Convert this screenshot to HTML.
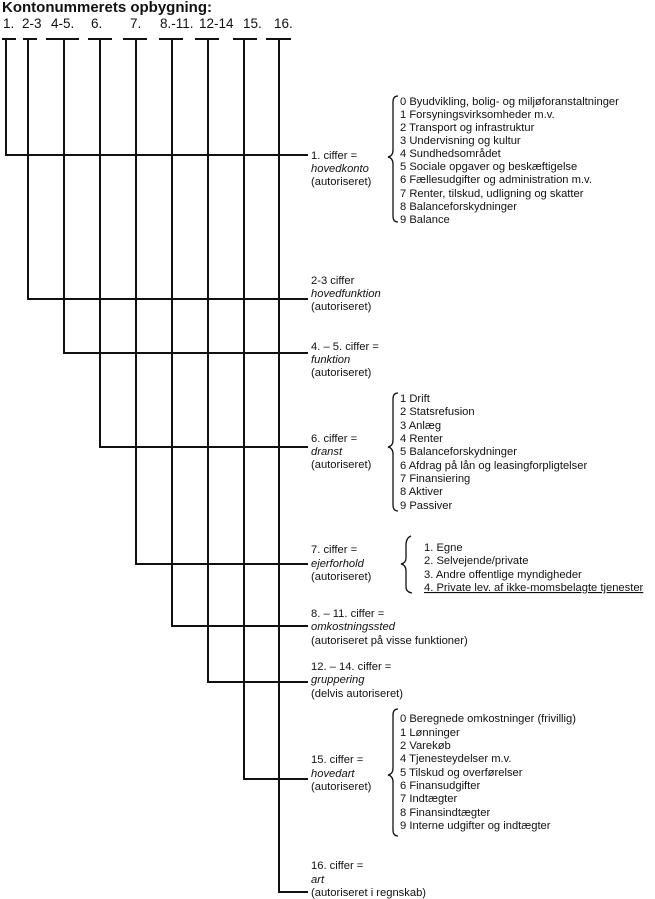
<!DOCTYPE html>
<html><head><meta charset="utf-8"><style>
body{margin:0;background:#fff;}
svg{display:block;}
text{font-family:"Liberation Sans",Arial,sans-serif;font-size:11.2px;fill:#111;}
.i{font-style:italic;}
text.c{font-size:13.5px;}
</style></head><body>
<svg width="655" height="899" viewBox="0 0 655 899" xmlns="http://www.w3.org/2000/svg">
<text x="2" y="12" style="font-size:15px;font-weight:bold">Kontonummerets opbygning:</text>
<text class="c" x="3" y="28">1.</text><text class="c" x="22" y="28">2-3</text><text class="c" x="51" y="28">4-5.</text>
<text class="c" x="91" y="28">6.</text><text class="c" x="130" y="28">7.</text><text class="c" x="160" y="28">8.-11.</text>
<text class="c" x="199" y="28">12-14</text><text class="c" x="243" y="28">15.</text><text class="c" x="274" y="28">16.</text>
<g stroke="#111" stroke-width="2" fill="none">
<line x1="2" y1="39" x2="16" y2="39"/><line x1="23" y1="39" x2="37" y2="39"/>
<line x1="46" y1="39" x2="79" y2="39"/><line x1="88" y1="39" x2="112" y2="39"/>
<line x1="123" y1="39" x2="147" y2="39"/><line x1="159" y1="39" x2="183" y2="39"/>
<line x1="195" y1="39" x2="219" y2="39"/><line x1="233" y1="39" x2="257" y2="39"/>
<line x1="266" y1="39" x2="291" y2="39"/>
<polyline points="6,39 6,155 308,155"/>
<polyline points="28,39 28,299 308,299"/>
<polyline points="64,39 64,353 308,353"/>
<polyline points="100,39 100,447 308,447"/>
<polyline points="136,39 136,564 308,564"/>
<polyline points="172,39 172,626 308,626"/>
<polyline points="208,39 208,682 308,682"/>
<polyline points="244,39 244,779 308,779"/>
<polyline points="279,39 279,892 308,892"/>
</g>
<g stroke="#111" stroke-width="1.3" fill="none">
<path d="M398,96 Q393,96 393,102 L393,150 Q393,156 388,157 Q393,158 393,164 L393,216 Q393,222 398,222"/>
<path d="M398,393 Q393,393 393,399 L393,440 Q393,446 388,447 Q393,448 393,454 L393,505 Q393,511 398,511"/>
<path d="M411,536 Q406,538 406,545 L406,558 Q406,563 401,564 Q406,565 406,571 L406,587 Q406,592 412,593"/>
<path d="M398,709 Q393,709 393,715 L393,768 Q393,774 388,775 Q393,776 393,782 L393,830 Q393,836 398,836"/>
</g>
<text x="311" y="159">1. ciffer =</text><text class="i" x="311" y="172">hovedkonto</text><text x="311" y="185">(autoriseret)</text>
<g>
<text x="400" y="105">0 Byudvikling, bolig- og miljøforanstaltninger</text>
<text x="400" y="118">1 Forsyningsvirksomheder m.v.</text>
<text x="400" y="131">2 Transport og infrastruktur</text>
<text x="400" y="144">3 Undervisning og kultur</text>
<text x="400" y="157">4 Sundhedsområdet</text>
<text x="400" y="170">5 Sociale opgaver og beskæftigelse</text>
<text x="400" y="183">6 Fællesudgifter og administration m.v.</text>
<text x="400" y="197">7 Renter, tilskud, udligning og skatter</text>
<text x="400" y="210">8 Balanceforskydninger</text>
<text x="400" y="223">9 Balance</text>
</g>
<text x="311" y="284">2-3 ciffer</text><text class="i" x="311" y="297">hovedfunktion</text><text x="311" y="310">(autoriseret)</text>
<text x="311" y="350">4. – 5. ciffer =</text><text class="i" x="311" y="363">funktion</text><text x="311" y="376">(autoriseret)</text>
<text x="311" y="442">6. ciffer =</text><text class="i" x="311" y="455">dranst</text><text x="311" y="468">(autoriseret)</text>
<g>
<text x="400" y="402">1 Drift</text><text x="400" y="415">2 Statsrefusion</text><text x="400" y="429">3 Anlæg</text>
<text x="400" y="442">4 Renter</text><text x="400" y="455">5 Balanceforskydninger</text>
<text x="400" y="469">6 Afdrag på lån og leasingforpligtelser</text><text x="400" y="482">7 Finansiering</text>
<text x="400" y="495">8 Aktiver</text><text x="400" y="509">9 Passiver</text>
</g>
<text x="311" y="553">7. ciffer =</text><text class="i" x="311" y="567">ejerforhold</text><text x="311" y="580">(autoriseret)</text>
<g>
<text x="424" y="551">1. Egne</text><text x="424" y="564">2. Selvejende/private</text>
<text x="424" y="578">3. Andre offentlige myndigheder</text>
<text x="424" y="591" text-decoration="underline">4. Private lev. af ikke-momsbelagte tjenester</text>
</g>
<text x="311" y="617">8. – 11. ciffer =</text><text class="i" x="311" y="630">omkostningssted</text><text x="311" y="644">(autoriseret på visse funktioner)</text>
<text x="311" y="670">12. – 14. ciffer =</text><text class="i" x="311" y="683">gruppering</text><text x="311" y="697">(delvis autoriseret)</text>
<text x="311" y="763">15. ciffer =</text><text class="i" x="311" y="777">hovedart</text><text x="311" y="790">(autoriseret)</text>
<g>
<text x="400" y="722">0 Beregnede omkostninger (frivillig)</text><text x="400" y="736">1 Lønninger</text>
<text x="400" y="749">2 Varekøb</text><text x="400" y="762">4 Tjenesteydelser m.v.</text>
<text x="400" y="776">5 Tilskud og overførelser</text><text x="400" y="789">6 Finansudgifter</text>
<text x="400" y="802">7 Indtægter</text><text x="400" y="816">8 Finansindtægter</text>
<text x="400" y="829">9 Interne udgifter og indtægter</text>
</g>
<text x="311" y="869">16. ciffer =</text><text class="i" x="311" y="883">art</text><text x="311" y="896">(autoriseret i regnskab)</text>
</svg>
</body></html>
